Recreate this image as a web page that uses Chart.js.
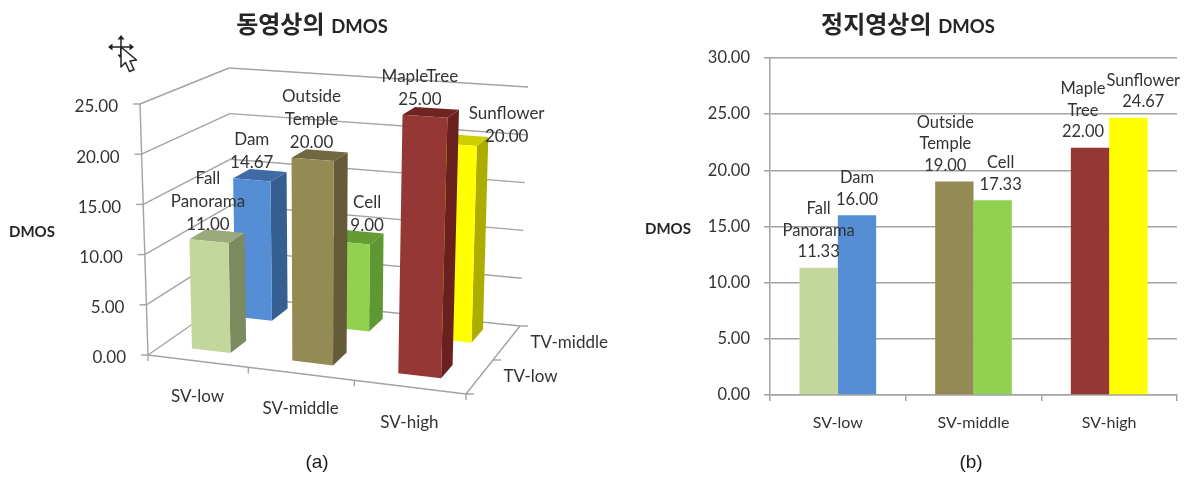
<!DOCTYPE html>
<html lang="ko">
<head>
<meta charset="utf-8">
<title>DMOS</title>
<script src="https://cdn.jsdelivr.net/npm/chart.js@4"></script>
<style>
  html, body { margin: 0; background: #fff; }
  body { position: relative; width: 1186px; height: 478px; overflow: hidden; }
  canvas, .txt, svg { position: absolute; }
  #video-chart { left: 0; top: 0; }
  #still-chart { left: 630px; top: 0; }
  .txt { white-space: nowrap; color: #262626; transform: translate(-50%, -50%); }
  .title { font: 700 24px "Noto Sans CJK KR"; }
  .title span { font: 700 18.5px Lato; }
  .axis { font: 700 15px Lato; }
  .cap { font: 19px "Liberation Sans"; color: #1a1a1a; }
</style>
</head>
<body>
<canvas id="video-chart" width="620" height="478"></canvas>
<canvas id="still-chart" width="556" height="478"></canvas>

<div class="txt title" style="left:312px;top:22px">동영상의 <span>DMOS</span></div>
<div class="txt title" style="left:908px;top:22px">정지영상의 <span>DMOS</span></div>
<div class="txt axis" style="left:32px;top:231px">DMOS</div>
<div class="txt axis" style="left:668px;top:228px">DMOS</div>
<div class="txt cap" style="left:317px;top:462px">(a)</div>
<div class="txt cap" style="left:971px;top:462px">(b)</div>

<!-- move cursor -->
<svg style="left:104px;top:32px" width="36" height="46" viewBox="0 0 36 46">
  <path d="M5 15h24M17 5v20" stroke="#222" stroke-width="1.5"/>
  <path d="M17 3l3.5 4.5h-7zM4 15l4.5-3.5v7zM30 15l-4.5-3.5v7zM16 26l-2.5-3.5 5 0z" fill="#222"/>
  <path d="M17 15v20l4.5-4.5 4 9 4.5-2-4-8.5 6.5-1z" fill="#fff" stroke="#222" stroke-width="1.5" stroke-linejoin="round"/>
</svg>

<script>
const svLabels = ["SV-low", "SV-middle", "SV-high"];
const tvLabels = ["TV-low", "TV-middle"];

// 3D chart values, one array per depth row
const videoLow = [11, 20, 25];
const videoMid = [14.67, 9, 20];
const videoLowNames = [["Fall", "Panorama"], ["Outside", "Temple"], ["MapleTree"]];
const videoMidNames = [["Dam"], ["Cell"], ["Sunflower"]];

// flat chart values
const stillLow = [11.33, 19, 22];
const stillMid = [16, 17.33, 24.67];
const stillLowNames = [["Fall", "Panorama"], ["Outside", "Temple"], ["Maple", "Tree"]];
const stillMidNames = [["Dam"], ["Cell"], ["Sunflower"]];

const lowColors  = ["#C3D69B", "#948A54", "#953735"];
const midColors  = ["#558ED5", "#92D050", "#FFFF00"];
const lowTops    = ["#9BAA7B", "#6F6840", "#6F2422"];
const midTops    = ["#3E6BA4", "#649C33", "#CFCF00"];
const lowSides   = ["#7C8B5F", "#645C38", "#6B2020"];
const midSides   = ["#365F91", "#5F9732", "#ADAD00"];

const VIDEO_FONT = "17px Lato";
const STILL_FONT = "16.5px Lato";
const TEXT_COLOR = "#333333";
const GRID_COLOR = "#A3A3A3";

// label nudges away from the bar centre, per dataset then category
const videoNudges = [[-1, -1, -5], [0, 17, 51]];
const videoLifts  = [[0, 0, 0], [0, 0, 9]];
const stillNudges = [[0, -9, -7], [0, 8, 15]];

// corners of the 3D box on screen: front/back, left/right, floor/ceiling
const BOX = {
  fl0: [148, 355], fl1: [140, 104],
  fr0: [466, 394], fr1: [474, 127],
  bl0: [233, 296], bl1: [229, 68],
  br0: [520, 326], br1: [528, 87],
};
const ROW_FRONT = [0.17, 0.7];
const ROW_DEPTH = 0.2;

const mix = (a, b, t) => [a[0] + (b[0] - a[0]) * t, a[1] + (b[1] - a[1]) * t];

function project(u, v, h) {
  // small correction so the near side of the floor reads wider
  const w = u - 0.08 * u * (1 - u);
  const floor = mix(mix(BOX.fl0, BOX.fr0, w), mix(BOX.bl0, BOX.br0, w), v);
  const roof  = mix(mix(BOX.fl1, BOX.fr1, w), mix(BOX.bl1, BOX.br1, w), v);
  return mix(floor, roof, h);
}

function poly(ctx, points, fill) {
  ctx.beginPath();
  points.forEach((p, i) => (i ? ctx.lineTo(p[0], p[1]) : ctx.moveTo(p[0], p[1])));
  ctx.closePath();
  ctx.fillStyle = fill;
  ctx.fill();
}

function line(ctx, a, b) {
  ctx.beginPath();
  ctx.moveTo(a[0], a[1]);
  ctx.lineTo(b[0], b[1]);
  ctx.stroke();
}

function drawStacked(ctx, lines, x, bottomY, font, gap) {
  ctx.font = font;
  ctx.fillStyle = TEXT_COLOR;
  ctx.textAlign = "center";
  ctx.textBaseline = "middle";
  lines.forEach((t, i) => ctx.fillText(t, x, bottomY - (lines.length - 1 - i) * gap));
}

// walls, floor and axes of the 3D box
function drawBox(chart) {
  const { ctx, chartArea: area, scales: { x, y } } = chart;
  const unitH = v => (area.bottom - y.getPixelForValue(v)) / (area.bottom - area.top);

  ctx.strokeStyle = GRID_COLOR;
  ctx.lineWidth = 1.4;
  y.ticks.forEach(t => {
    const h = unitH(t.value);
    const a = project(0, 0, h), b = project(0, 1, h), c = project(1, 1, h);
    line(ctx, a, b);
    line(ctx, b, c);
    line(ctx, [a[0] - 7, a[1]], a);
    ctx.font = VIDEO_FONT;
    ctx.fillStyle = TEXT_COLOR;
    ctx.textAlign = "right";
    ctx.textBaseline = "middle";
    ctx.fillText(t.value.toFixed(2), a[0] - 22, a[1] + 3);
  });
  line(ctx, project(0, 0, 0), project(0, 0, 1));
  line(ctx, project(0, 0, 0), project(1, 0, 0));
  line(ctx, project(1, 0, 0), project(1, 1, 0));

  // floor ticks along the front and right edges
  for (let i = 0; i <= svLabels.length; i++) {
    const p = project(i / svLabels.length, 0, 0);
    line(ctx, p, [p[0], p[1] + 6]);
  }
  for (let i = 0; i <= tvLabels.length; i++) {
    const p = project(1, i / tvLabels.length, 0);
    line(ctx, p, [p[0] + 8, p[1]]);
  }

  ctx.font = VIDEO_FONT;
  ctx.fillStyle = TEXT_COLOR;
  ctx.textAlign = "center";
  x.ticks.forEach((t, i) => {
    const u = (x.getPixelForTick(i) - area.left) / (area.right - area.left);
    const p = project(u, 0, 0);
    ctx.fillText(svLabels[t.value], p[0], p[1] + 35);
  });
  ctx.textAlign = "left";
  tvLabels.forEach((name, j) => {
    const p = project(1, (j + 0.5) / tvLabels.length, 0);
    ctx.fillText(name, p[0] + 24, p[1]);
  });
}

const box3d = {
  id: "box3d",
  beforeDatasetsDraw(chart) {
    const { ctx, chartArea: area } = chart;
    const unitU = px => (px - area.left) / (area.right - area.left);
    const unitH = px => (area.bottom - px) / (area.bottom - area.top);
    ctx.save();
    drawBox(chart);

    // back row first so the front row covers it
    [1, 0].forEach(row => {
      const ds = chart.data.datasets[row];
      const v0 = ROW_FRONT[row], v1 = v0 + ROW_DEPTH;
      chart.getDatasetMeta(row).data.forEach((bar, i) => {
        const u0 = unitU(bar.x - bar.width / 2), u1 = unitU(bar.x + bar.width / 2);
        const h = unitH(bar.y);
        poly(ctx, [project(u1, v0, 0), project(u1, v1, 0), project(u1, v1, h), project(u1, v0, h)], ds.sideColors[i]);
        poly(ctx, [project(u0, v0, h), project(u1, v0, h), project(u1, v1, h), project(u0, v1, h)], ds.topColors[i]);
        poly(ctx, [project(u0, v0, 0), project(u1, v0, 0), project(u1, v0, h), project(u0, v0, h)], ds.backgroundColor[i]);
      });
    });

    chart.data.datasets.forEach((ds, row) => {
      const v0 = ROW_FRONT[row];
      chart.getDatasetMeta(row).data.forEach((bar, i) => {
        const top = project(unitU(bar.x), v0, unitH(bar.y));
        const text = [...ds.names[i], ds.data[i].toFixed(2)];
        drawStacked(ctx, text, top[0] + videoNudges[row][i], top[1] - 17 + videoLifts[row][i], VIDEO_FONT, 23);
      });
    });
    ctx.restore();
  },
  // the flat bars are replaced by the projected ones above
  beforeDatasetDraw() { return false; },
};

const stillLabels = {
  id: "stillLabels",
  afterDatasetsDraw(chart) {
    const { ctx } = chart;
    ctx.save();
    chart.data.datasets.forEach((ds, row) => {
      chart.getDatasetMeta(row).data.forEach((bar, i) => {
        const text = [...ds.names[i], ds.data[i].toFixed(2)];
        drawStacked(ctx, text, bar.x + stillNudges[row][i], bar.y - 16, STILL_FONT, 21.5);
      });
    });
    ctx.restore();
  },
};

new Chart(document.getElementById("video-chart"), {
  type: "bar",
  data: {
    labels: svLabels,
    datasets: [
      { label: tvLabels[0], data: videoLow, names: videoLowNames, backgroundColor: lowColors, topColors: lowTops, sideColors: lowSides },
      { label: tvLabels[1], data: videoMid, names: videoMidNames, backgroundColor: midColors, topColors: midTops, sideColors: midSides },
    ],
  },
  options: {
    responsive: false,
    animation: false,
    plugins: { legend: { display: false }, tooltip: { enabled: false } },
    datasets: { bar: { grouped: false, barPercentage: 0.39, categoryPercentage: 1 } },
    scales: {
      x: { display: false },
      y: { display: false, min: 0, max: 25, ticks: { stepSize: 5 } },
    },
  },
  plugins: [box3d],
});

new Chart(document.getElementById("still-chart"), {
  type: "bar",
  data: {
    labels: svLabels,
    datasets: [
      { label: tvLabels[0], data: stillLow, names: stillLowNames, backgroundColor: lowColors },
      { label: tvLabels[1], data: stillMid, names: stillMidNames, backgroundColor: midColors },
    ],
  },
  options: {
    responsive: false,
    animation: false,
    layout: { padding: { top: 58, right: 9 } },
    plugins: { legend: { display: false }, tooltip: { enabled: false } },
    datasets: { bar: { barPercentage: 1, categoryPercentage: 0.565 } },
    scales: {
      x: {
        afterFit: s => { s.height = 83; },
        border: { color: GRID_COLOR, width: 1.5 },
        grid: { drawOnChartArea: false, color: GRID_COLOR, lineWidth: 1.5, tickLength: 6 },
        ticks: { color: TEXT_COLOR, font: { family: "Lato", size: 16 }, padding: 12, maxRotation: 0 },
      },
      y: {
        min: 0, max: 30,
        afterFit: s => { s.width = 140; },
        border: { color: GRID_COLOR, width: 1.5 },
        grid: { color: GRID_COLOR, lineWidth: 1.5, tickLength: 6 },
        ticks: { stepSize: 5, color: TEXT_COLOR, font: { family: "Lato", size: 16.5 }, padding: 14, callback: v => v.toFixed(2) },
      },
    },
  },
  plugins: [stillLabels],
});
</script>
</body>
</html>
